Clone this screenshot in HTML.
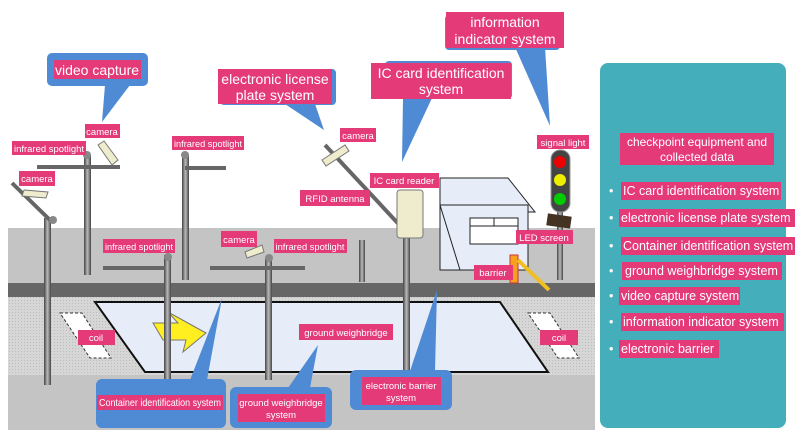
<!DOCTYPE html>
<html><head><meta charset="utf-8"><style>
html,body{margin:0;padding:0;background:#fff}
svg{display:block}
text{font-family:"Liberation Sans",Arial,sans-serif;fill:#fff}
</style></head><body>
<svg width="800" height="446" viewBox="0 0 800 446" xmlns="http://www.w3.org/2000/svg">
<defs>
<pattern id="dots" width="3" height="3" patternUnits="userSpaceOnUse"><rect width="3" height="3" fill="#d6d6d6"/><rect width="1" height="1" fill="#bdbdbd"/></pattern>
<linearGradient id="pole" x1="0" x2="1"><stop offset="0" stop-color="#444"/><stop offset="0.5" stop-color="#bbb"/><stop offset="1" stop-color="#444"/></linearGradient>
</defs>
<rect x="8" y="228" width="587" height="202" fill="#c4c4c4"/>
<rect x="8" y="283" width="587" height="14" fill="#666"/>
<rect x="8" y="297" width="587" height="78" fill="url(#dots)"/>
<polygon points="95,302 500,302 548,372 145,372" fill="#e6edf8" stroke="#111" stroke-width="2"/>
<polygon points="60,313 82,313 111,358 90,358" fill="#fff" stroke="#333" stroke-dasharray="3,2"/>
<polygon points="528,313 550,313 579,358 558,358" fill="#fff" stroke="#333" stroke-dasharray="3,2"/>
<polygon points="153,323 178,323 168,312 206,333 183,352 186,340 163,340" fill="#ffee20" stroke="#777"/>
<polygon points="440,178 508,178 535,212 440,212" fill="#e6edf8" stroke="#222"/>
<rect x="440" y="205" width="88" height="65" fill="#e6edf8" stroke="#222"/>
<line x1="440" y1="205" x2="460" y2="270" stroke="#222"/>
<rect x="470" y="218" width="48" height="26" fill="#fff" stroke="#222"/>
<line x1="470" y1="226" x2="518" y2="226" stroke="#222"/><line x1="494" y1="218" x2="494" y2="226" stroke="#222"/>
<rect x="510" y="255" width="8" height="28" fill="#f7a020" stroke="#c33"/>
<line x1="518" y1="260" x2="549" y2="290" stroke="#f0c020" stroke-width="4"/>
<rect x="557" y="212" width="6" height="68" fill="url(#pole)"/>
<rect x="551" y="150" width="19" height="62" rx="9" fill="#444" stroke="#999"/>
<circle cx="560" cy="162" r="6" fill="#e00"/><circle cx="560" cy="180" r="6" fill="#ee0"/><circle cx="560" cy="199" r="6" fill="#0c0"/>
<rect x="547" y="215" width="24" height="12" fill="#432" transform="rotate(8 559 221)"/>
<g fill="url(#pole)">
<rect x="84" y="155" width="7" height="120"/><rect x="182" y="155" width="7" height="125"/>
<rect x="44" y="218" width="7" height="167"/><rect x="164" y="255" width="7" height="130"/>
<rect x="265" y="258" width="7" height="122"/><rect x="403" y="230" width="7" height="155"/>
<rect x="359" y="240" width="6" height="42"/>
</g>
<g stroke="#666" stroke-width="4">
<line x1="37" y1="167" x2="120" y2="167"/><line x1="185" y1="168" x2="226" y2="168"/>
<line x1="103" y1="268" x2="165" y2="268"/><line x1="210" y1="268" x2="305" y2="268"/>
<line x1="12" y1="183" x2="52" y2="222"/><line x1="325" y1="145" x2="406" y2="232"/>
</g>
<g fill="#888"><circle cx="87" cy="155" r="4"/><circle cx="185" cy="155" r="4"/><circle cx="53" cy="220" r="4"/><circle cx="168" cy="257" r="4"/><circle cx="269" cy="258" r="4"/></g>
<g fill="#eeeccc" stroke="#777">
<polygon points="98,145 104,141 118,160 112,165"/><polygon points="24,190 48,192 46,198 22,196"/>
<polygon points="322,160 345,145 349,151 326,166"/><polygon points="245,252 262,245 264,252 247,258"/>
<rect x="397" y="190" width="26" height="48" rx="3"/>
</g>
<rect x="600" y="63" width="186" height="365" rx="8" fill="#45aebb"/>
<g fill="#e43a78">
<rect x="620" y="133" width="154" height="32"/>
<rect x="621" y="182" width="160" height="18"/><rect x="619" y="209" width="176" height="18"/>
<rect x="621" y="237" width="174" height="18"/><rect x="622" y="262" width="160" height="18"/>
<rect x="619" y="287" width="121" height="18"/><rect x="621" y="313" width="163" height="18"/>
<rect x="619" y="340" width="100" height="18"/>
</g>
<text x="697" y="146" font-size="12" text-anchor="middle">checkpoint equipment and</text>
<text x="697" y="161" font-size="12" text-anchor="middle">collected data</text>
<g font-size="12.5">
<text x="609" y="195">•</text><text x="623" y="195">IC card identification system</text>
<text x="609" y="222">•</text><text x="621" y="222">electronic license plate system</text>
<text x="609" y="250">•</text><text x="623" y="250">Container identification system</text>
<text x="609" y="275">•</text><text x="625" y="275">ground weighbridge system</text>
<text x="609" y="300">•</text><text x="621" y="300">video capture system</text>
<text x="609" y="326">•</text><text x="623" y="326">information indicator system</text>
<text x="609" y="353">•</text><text x="621" y="353">electronic barrier</text>
</g>
<g fill="#4f8bd4">
<rect x="47" y="53" width="101" height="33" rx="5"/><polygon points="105,85 130,85 102,122"/>
<rect x="220" y="69" width="116" height="36" rx="4"/><polygon points="285,104 315,104 324,130"/>
<rect x="385" y="61" width="127" height="38" rx="4"/><polygon points="403,98 432,98 402,162"/>
<rect x="445" y="15" width="115" height="35" rx="4"/><polygon points="515,47 545,47 550,126"/>
<rect x="96" y="379" width="130" height="49" rx="6"/><polygon points="190,380 207,380 222,298"/>
<rect x="230" y="387" width="102" height="41" rx="6"/><polygon points="288,388 310,388 318,345"/>
<rect x="350" y="370" width="102" height="40" rx="6"/><polygon points="410,371 435,371 437,290"/>
</g>
<g fill="#e43a78">
<rect x="54" y="60" width="87" height="19"/><rect x="218" y="69" width="114" height="35"/>
<rect x="371" y="63" width="140" height="36"/><rect x="446" y="12" width="118" height="36"/>
<rect x="97" y="395" width="126" height="15"/><rect x="238" y="394" width="87" height="28"/>
<rect x="362" y="377" width="79" height="28"/>
<rect x="85" y="124" width="35" height="14"/><rect x="12" y="141" width="74" height="14"/>
<rect x="19" y="171" width="36" height="15"/><rect x="172" y="136" width="72" height="14"/>
<rect x="340" y="128" width="36" height="14"/><rect x="300" y="190" width="70" height="16"/>
<rect x="370" y="173" width="69" height="15"/><rect x="537" y="135" width="52" height="14"/>
<rect x="516" y="230" width="57" height="14"/><rect x="474" y="265" width="39" height="15"/>
<rect x="103" y="239" width="72" height="14"/><rect x="221" y="231" width="36" height="16"/>
<rect x="274" y="239" width="73" height="14"/><rect x="78" y="330" width="37" height="15"/>
<rect x="540" y="330" width="38" height="15"/><rect x="299" y="324" width="94" height="16"/>
</g>
<g font-size="14" text-anchor="middle">
<text x="97" y="75">video capture</text>
<text x="275" y="84">electronic license</text><text x="275" y="100">plate system</text>
<text x="441" y="78">IC card identification</text><text x="441" y="94">system</text>
<text x="505" y="27">information</text><text x="505" y="44">indicator system</text>
</g>
<g font-size="9.5" text-anchor="middle">
<text x="160" y="406" font-size="10.5" textLength="122" lengthAdjust="spacingAndGlyphs">Container identification system</text>
<text x="281" y="406">ground weighbridge</text><text x="281" y="418">system</text>
<text x="401" y="389">electronic barrier</text><text x="401" y="401">system</text>
<text x="102" y="135">camera</text><text x="49" y="152" textLength="70" lengthAdjust="spacingAndGlyphs">infrared spotlight</text>
<text x="37" y="182">camera</text><text x="208" y="147" textLength="68" lengthAdjust="spacingAndGlyphs">infrared spotlight</text>
<text x="358" y="139">camera</text><text x="335" y="202">RFID antenna</text>
<text x="404" y="184">IC card reader</text><text x="563" y="146">signal light</text>
<text x="544" y="241">LED screen</text><text x="493" y="276">barrier</text>
<text x="139" y="250" textLength="68" lengthAdjust="spacingAndGlyphs">infrared spotlight</text><text x="239" y="243">camera</text>
<text x="310" y="250" textLength="69" lengthAdjust="spacingAndGlyphs">infrared spotlight</text><text x="96" y="341">coil</text>
<text x="559" y="341">coil</text><text x="346" y="336">ground weighbridge</text>
</g>
</svg>
</body></html>
